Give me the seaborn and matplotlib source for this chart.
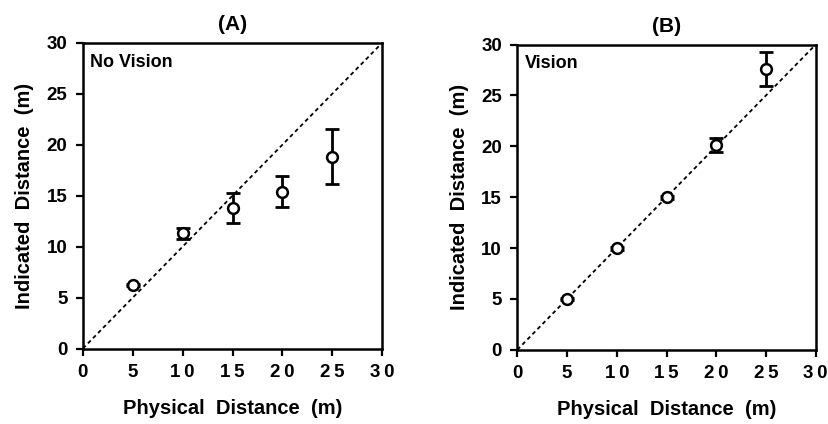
import matplotlib
matplotlib.use("Agg")
import matplotlib.pyplot as plt
import seaborn as sns
import pandas as pd

# Physical target distances (m)
physical = [5, 10, 15, 20, 25]

# Mean indicated distance and error (m), walking without vision
no_vision_mean = [6.2, 11.3, 13.8, 15.4, 18.8]
no_vision_err = [0.1, 0.55, 1.5, 1.5, 2.7]

# Mean indicated distance and error (m), walking with vision
vision_mean = [5.0, 10.0, 15.0, 20.1, 27.6]
vision_err = [0.1, 0.15, 0.15, 0.7, 1.65]

ticks = [0, 5, 10, 15, 20, 25, 30]
x_tick_labels = ["0", "5", "1\u20090", "1\u20095", "2\u20090", "2\u20095", "3\u20090"]
y_tick_labels = ["0", "5", "10", "15", "20", "25", "30"]

panels = [
    ("(A)", "No Vision", no_vision_mean, no_vision_err),
    ("(B)", "Vision", vision_mean, vision_err),
]

sns.set_theme(style="white")
plt.rcParams["font.family"] = ["Liberation Sans", "DejaVu Sans"]
plt.rcParams["font.weight"] = "bold"

fig = plt.figure(figsize=(8.29, 4.24), dpi=100)
rects = [[0.100, 0.178, 0.361, 0.721], [0.624, 0.175, 0.360, 0.720]]

for rect, (title, tag, mean, err) in zip(rects, panels):
    ax = fig.add_axes(rect)
    df = pd.DataFrame({"physical": physical, "indicated": mean, "err": err})

    # identity line
    ident = pd.DataFrame({"x": [0, 30], "y": [0, 30]})
    sns.lineplot(data=ident, x="x", y="y", ax=ax, color="black",
                 linewidth=1.3, linestyle=(0, (2.2, 1.8)), zorder=1)

    ax.errorbar(df["physical"], df["indicated"], yerr=df["err"], fmt="none",
                ecolor="black", elinewidth=2.0, capsize=5, capthick=2.0,
                zorder=2)
    sns.scatterplot(data=df, x="physical", y="indicated", ax=ax, s=60,
                    marker="o", facecolor="white", edgecolor="black",
                    linewidth=1.8, zorder=3)

    ax.set_xlim(0, 30)
    ax.set_ylim(0, 30)
    ax.set_xticks(ticks)
    ax.set_xticklabels(x_tick_labels)
    ax.set_yticks(ticks)
    ax.set_yticklabels(y_tick_labels)
    ax.tick_params(axis="both", direction="out", length=5, width=1.6,
                   labelsize=13.5, color="black", labelcolor="black",
                   bottom=True, left=True)
    ax.tick_params(axis="x", pad=6)
    ax.tick_params(axis="y", pad=6)
    for s in ax.spines.values():
        s.set_color("black")
        s.set_linewidth(1.8)

    ax.set_xlabel("Physical  Distance  (m)", fontsize=14.5, fontweight="bold",
                  labelpad=13, color="black")
    ax.set_ylabel("Indicated  Distance  (m)", fontsize=14.5, fontweight="bold",
                  labelpad=9, color="black")
    ax.set_title(title, fontsize=15, fontweight="bold", pad=9, color="black")
    ax.text(0.025, 0.965, tag, transform=ax.transAxes, ha="left", va="top",
            fontsize=13, fontweight="bold", color="black")

fig.savefig("out.png", dpi=100, facecolor="white")
